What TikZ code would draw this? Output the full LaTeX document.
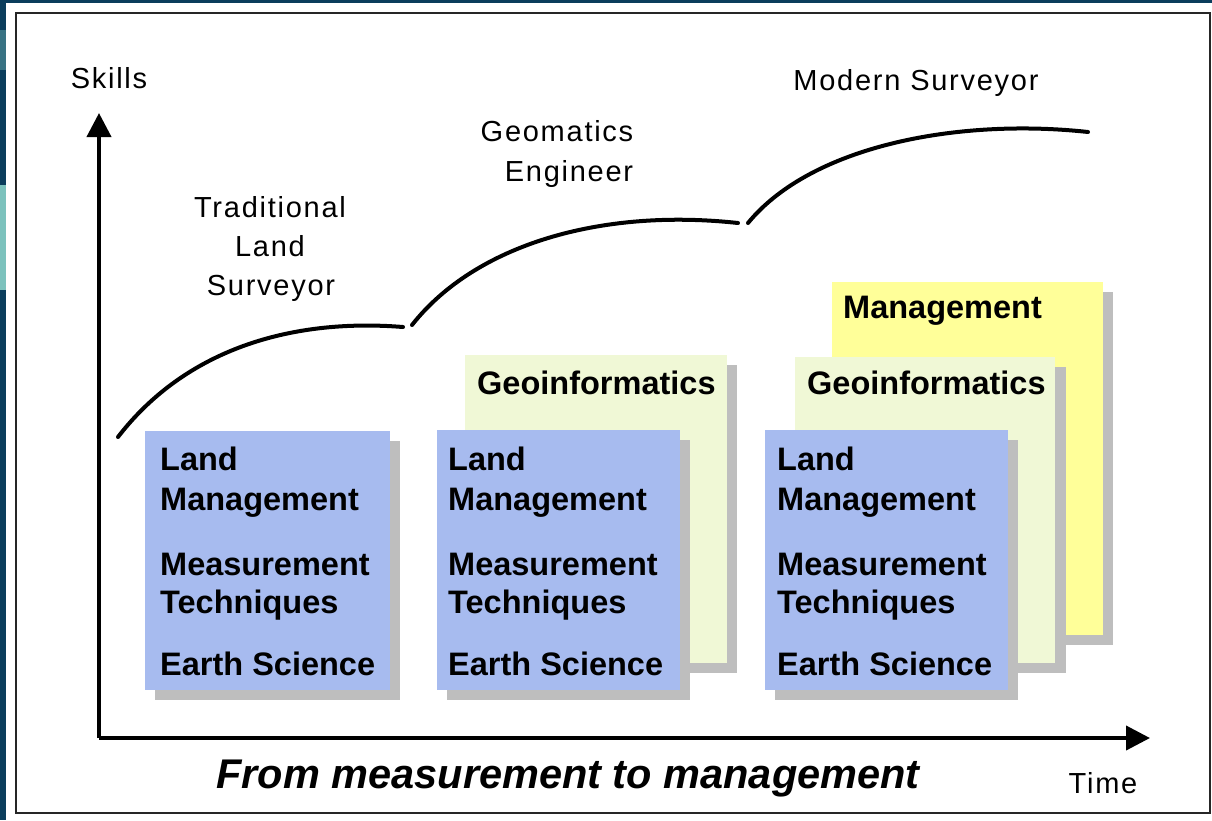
\documentclass[tikz,border=0pt]{standalone}
\usepackage{fontspec}
\setmainfont{Liberation Sans}
\newfontfamily\lblfont[LetterSpace=6]{Liberation Sans}
\usetikzlibrary{arrows.meta}
\definecolor{navy}{HTML}{0B3D5C}
\definecolor{tealx}{HTML}{7CC2BD}
\definecolor{boxblue}{HTML}{A7BBEF}
\definecolor{boxgreen}{HTML}{F0F8D6}
\definecolor{boxyellow}{HTML}{FFFF99}
\definecolor{shade}{HTML}{BEBEBE}
\tikzset{
  lbl/.style={font=\lblfont\fontsize{29}{36}\selectfont, anchor=base, inner sep=0pt, text=black},
  btxt/.style={font=\fontsize{32.5}{38}\selectfont\bfseries, anchor=base west, inner sep=0pt, text=black},
  curveline/.style={line width=4pt, line cap=round},
  axisline/.style={line width=4pt, -{Triangle[length=24pt,width=24pt]}},
  shadowbox/.style={fill=shade, draw=none},
}
\begin{document}
\begin{tikzpicture}[x=1pt,y=-1pt]
\useasboundingbox (0,0) rectangle (1212,820);
% background
\fill[navy] (0,0) rectangle (1212,820);
\fill[tealx] (0,185) rectangle (6,290);
\fill[navy!60!tealx] (0,30) rectangle (6,70);
\fill[white] (6,3) rectangle (1212,820);
\draw[black!85, line width=2pt] (16,13) rectangle (1210,813);

% boxes: column 1
\fill[shadowbox] (155,441) rectangle (400,700);
\fill[boxblue] (145,431) rectangle (390,690);
% column 2
\fill[shadowbox] (475,365) rectangle (737,673);
\fill[boxgreen] (465,355) rectangle (727,663);
\fill[shadowbox] (447,440) rectangle (690,700);
\fill[boxblue] (437,430) rectangle (680,690);
% column 3
\fill[shadowbox] (842,292) rectangle (1113,645);
\fill[boxyellow] (832,282) rectangle (1103,635);
\fill[shadowbox] (805,367) rectangle (1066,673);
\fill[boxgreen] (795,357) rectangle (1055,663);
\fill[shadowbox] (775,440) rectangle (1018,700);
\fill[boxblue] (765,430) rectangle (1008,690);

% box texts
\foreach \c/\x in {a/160,b/448,c/777}{
  \node[btxt] (land\c) at (\x,470) {Land};
  \node[btxt] (mgmt\c) at (\x,510) {Management};
  \node[btxt] (meas\c) at (\x,575) {Measurement};
  \node[btxt] (tech\c) at (\x,613) {Techniques};
  \node[btxt] (earth\c) at (\x,675) {Earth Science};
}
\node[btxt] (geob) at (477,394) {Geoinformatics};
\node[btxt] (geoc) at (807,394) {Geoinformatics};
\node[btxt] (mgc) at (843,318) {Management};

% axes
\coordinate (origin) at (99,738);
\coordinate (ytip) at (99,113);
\coordinate (xtip) at (1150,738);
\draw[axisline] (origin) -- (ytip);
\draw[axisline] (origin) -- (xtip);

% curves
\coordinate (c1a) at (118,437); \coordinate (c1b) at (403,327);
\coordinate (c2a) at (412,325); \coordinate (c2b) at (738,223);
\coordinate (c3a) at (748,223); \coordinate (c3b) at (1088,132);
\draw[curveline] (c1a) .. controls (185,350) and (290,318) .. (c1b);
\draw[curveline] (c2a) .. controls (475,245) and (600,208) .. (c2b);
\draw[curveline] (c3a) .. controls (812,145) and (960,118) .. (c3b);

% labels
\node[lbl] (skills) at (109,88) {Skills};
\node[lbl] (trad1) at (270,217) {Traditional};
\node[lbl] (trad2) at (270,256) {Land};
\node[lbl] (trad3) at (271,295) {Surveyor};
\node[lbl] (geo1) at (557,141) {Geomatics};
\node[lbl] (geo2) at (569,181) {Engineer};
\node[lbl] (modern) at (916,90) {Modern Surveyor};
\node[lbl] (time) at (1103,793) {Time};
\node[font=\fontsize{41.5}{48}\selectfont\bfseries\itshape, anchor=base, inner sep=0pt] (caption) at (568,788) {From measurement to management};
\end{tikzpicture}
\end{document}
